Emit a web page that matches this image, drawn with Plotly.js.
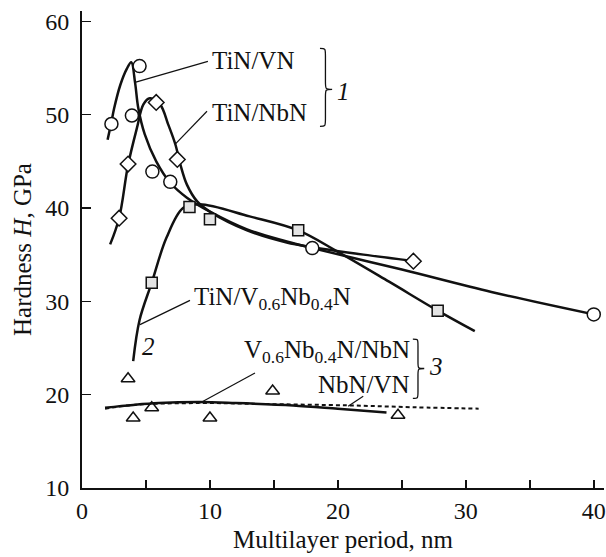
<!DOCTYPE html>
<html>
<head>
<meta charset="utf-8">
<script src="https://cdn.plot.ly/plotly-3.0.1.min.js"></script>
<style>html,body{margin:0;padding:0;background:#fff;}#chart{width:606px;height:557px;}</style>
</head>
<body>
<div id="chart"></div>
<script>
// ---- Fitted curves ----
const vnCurveX   = [2.0, 2.3, 2.5, 3.0, 3.5, 3.85, 4.15, 4.4, 4.9, 5.8, 6.9, 8.2, 10.0, 12.9, 16.0, 18.0, 25.0, 32.0, 40.0];
const vnCurveY   = [47.3, 49.2, 50.6, 53.2, 54.9, 55.6, 53.4, 50.7, 47.9, 45.0, 42.7, 41.1, 39.6, 37.7, 36.4, 35.7, 33.4, 31.0, 28.6];
const nbCurveX   = [2.2, 2.9, 3.6, 4.3, 4.8, 5.3, 6.1, 6.75, 7.3, 7.7, 8.2, 9.0, 10.0, 12.9, 16.0, 18.0, 22.0, 26.0];
const nbCurveY   = [36.1, 38.9, 44.6, 48.6, 51.1, 51.75, 51.1, 48.9, 46.8, 44.6, 42.5, 40.7, 39.6, 37.6, 36.3, 35.8, 35.0, 34.3];
const vnbCurveX  = [4.0, 4.5, 5.45, 6.6, 7.9, 9.2, 13.1, 16.9, 20.0, 24.0, 27.8, 30.7];
const vnbCurveY  = [23.6, 28.0, 32.0, 36.8, 40.0, 40.4, 39.1, 37.6, 35.3, 32.1, 29.0, 26.8];
const solidLowX  = [1.8, 4.0, 6.0, 9.2, 12.0, 16.5, 20.0, 23.8];
const solidLowY  = [18.6, 18.9, 19.1, 19.2, 19.1, 18.85, 18.5, 18.1];
const dashLowX   = [1.8, 4.0, 9.2, 14.0, 20.8, 26.0, 31.0];
const dashLowY   = [18.5, 18.9, 19.1, 19.0, 18.85, 18.65, 18.5];

// ---- Measured points ----
const circleX  = [2.3, 3.9, 4.5, 5.5, 6.9, 18.0, 40.0];
const circleY  = [49.0, 49.9, 55.2, 43.9, 42.8, 35.7, 28.6];
const diamondX = [2.9, 3.6, 5.8, 7.45, 25.9];
const diamondY = [38.9, 44.7, 51.3, 45.2, 34.3];
const squareX  = [5.45, 8.4, 10.0, 16.9, 27.8];
const squareY  = [32.0, 40.1, 38.8, 37.6, 29.0];
const triX     = [3.6, 4.0, 5.45, 10.0, 14.9, 24.7];
const triY     = [21.7, 17.5, 18.6, 17.5, 20.4, 17.8];

// ---- Tick labels ----
const xTickVals = [0, 5, 10, 15, 20, 25, 30, 35, 40];
const xTickText = ['0', '', '10', '', '20', '', '30', '', '40'];
const yTickVals = [10, 20, 30, 40, 50, 60];
const yTickText = ['10', '20', '30', '40', '50', '60'];

const FONT = 'Liberation Serif, Times New Roman, serif';
const lineStyle = {color: '#111', width: 2.5, shape: 'spline', smoothing: 1};

function curve(x, y, extra) {
  return Object.assign({x: x, y: y, mode: 'lines', line: lineStyle, hoverinfo: 'skip', showlegend: false}, extra || {});
}
function pts(x, y, symbol, size, fill) {
  return {x: x, y: y, mode: 'markers', showlegend: false, hoverinfo: 'skip',
    marker: {symbol: symbol, size: size, color: fill, line: {color: '#111', width: 1.5}}};
}

const traces = [
  curve(vnCurveX, vnCurveY),
  curve(nbCurveX, nbCurveY),
  curve(vnbCurveX, vnbCurveY),
  curve(solidLowX, solidLowY),
  curve(dashLowX, dashLowY, {line: {color: '#111', width: 2, shape: 'spline', smoothing: 1, dash: '4px,3px'}}),
  pts(circleX, circleY, 'circle', 13, '#fff'),
  pts(diamondX, diamondY, 'diamond', 12, '#fff'),
  pts(squareX, squareY, 'square', 11, '#e4e4e4'),
  pts(triX, triY, 'triangle-up', 12, 'rgba(255,255,255,0)')
];

function brace(x0, x1, ytop, ybot, ymid, c) {
  const xm = x0 + (x1 - x0) * 0.45;
  const p = 'M' + x0 + ',' + ytop +
    ' C' + xm + ',' + ytop + ' ' + xm + ',' + ytop + ' ' + xm + ',' + (ytop - c) +
    ' L' + xm + ',' + (ymid + c) +
    ' C' + xm + ',' + ymid + ' ' + xm + ',' + ymid + ' ' + x1 + ',' + ymid +
    ' C' + xm + ',' + ymid + ' ' + xm + ',' + ymid + ' ' + xm + ',' + (ymid - c) +
    ' L' + xm + ',' + (ybot + c) +
    ' C' + xm + ',' + ybot + ' ' + xm + ',' + ybot + ' ' + x0 + ',' + ybot;
  return {type: 'path', xref: 'x', yref: 'y', path: p, line: {color: '#111', width: 1.3}};
}
function leader(x0, y0, x1, y1) {
  return {type: 'line', xref: 'x', yref: 'y', x0: x0, y0: y0, x1: x1, y1: y1, line: {color: '#111', width: 1.2}};
}
function label(text, x, y, xanchor, italic) {
  return {text: italic ? '<i>' + text + '</i>' : text, x: x, y: y, xref: 'x', yref: 'y',
    xanchor: xanchor, yanchor: 'middle', showarrow: false,
    font: {family: FONT, size: 25, color: '#111'}};
}

const layout = {
  width: 606, height: 557,
  margin: {l: 82, r: 2, t: 11, b: 69},
  paper_bgcolor: '#fff', plot_bgcolor: '#fff',
  font: {family: FONT, size: 24, color: '#111'},
  xaxis: {
    range: [0, 40.8], showgrid: false, zeroline: false,
    showline: true, linecolor: '#111', linewidth: 2,
    ticks: 'inside', ticklen: 8, tickwidth: 1.5, tickcolor: '#111',
    tickvals: xTickVals, ticktext: xTickText,
    tickfont: {family: FONT, size: 24, color: '#111'},
    title: {text: 'Multilayer period, nm', font: {family: FONT, size: 25, color: '#111'}, standoff: 8}
  },
  yaxis: {
    range: [10, 61.1], showgrid: false, zeroline: false,
    showline: true, linecolor: '#111', linewidth: 2,
    ticks: 'inside', ticklen: 9, tickwidth: 1.5, tickcolor: '#111',
    tickvals: yTickVals, ticktext: yTickText,
    tickfont: {family: FONT, size: 24, color: '#111'},
    ticklabelstandoff: 6,
    title: {text: 'Hardness <i>H</i>, GPa', font: {family: FONT, size: 25, color: '#111'}, standoff: 6}
  },
  shapes: [
    leader(4.14, 53.46, 9.84, 55.71),
    leader(7.27, 46.82, 9.77, 50.36),
    leader(4.53, 27.5, 8.44, 30.1),
    leader(9.22, 19.1, 13.52, 22.32),
    leader(20.8, 18.75, 21.98, 19.82),
    brace(18.6, 19.55, 57.1, 48.75, 52.71, 0.8),
    brace(25.86, 26.75, 25.95, 19.6, 22.8, 0.7)
  ],
  annotations: [
    label('TiN/VN', 10.0, 55.8, 'left'),
    label('TiN/NbN', 10.0, 50.2, 'left'),
    label('1', 20.4, 52.5, 'center', true),
    label('TiN/V<sub>0.6</sub>Nb<sub>0.4</sub>N', 8.57, 30.3, 'left'),
    label('2', 5.16, 25.2, 'center', true),
    label('V<sub>0.6</sub>Nb<sub>0.4</sub>N/NbN', 25.8, 24.6, 'right'),
    label('NbN/VN', 25.8, 21.1, 'right'),
    label('3', 27.7, 23.0, 'center', true)
  ]
};

Plotly.newPlot('chart', traces, layout, {displayModeBar: false, staticPlot: true});
</script>
</body>
</html>
